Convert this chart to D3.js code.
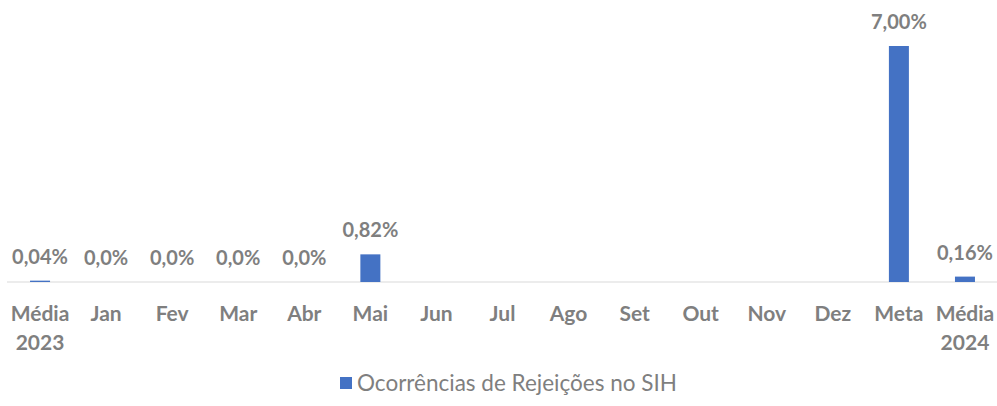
<!DOCTYPE html>
<html>
<head>
<meta charset="utf-8">
<script src="https://cdn.jsdelivr.net/npm/d3@7"></script>
<style>
  body { margin: 0; background: #fff; }
  svg { display: block; font-family: Lato, "Open Sans", sans-serif; }
</style>
</head>
<body>
<svg id="chart" width="997" height="406"></svg>
<script>
  // data
  const categories = ["Média 2023", "Jan", "Fev", "Mar", "Abr", "Mai", "Jun", "Jul",
    "Ago", "Set", "Out", "Nov", "Dez", "Meta", "Média 2024"];
  const values = [0.04, 0, 0, 0, 0, 0.82, null, null, null, null, null, null, null, 7.00, 0.16];
  const valueLabels = ["0,04%", "0,0%", "0,0%", "0,0%", "0,0%", "0,82%", "", "", "", "", "", "", "", "7,00%", "0,16%"];
  const seriesName = "Ocorrências de Rejeições no SIH";

  const geo = { left: 7, right: 998, top: 46, base: 282 };
  const svg = d3.select("#chart");

  const x = d3.scaleBand()
    .domain(categories)
    .range([geo.left, geo.right])
    .paddingInner(0.7)
    .paddingOuter(0.35);

  const y = d3.scaleLinear()
    .domain([0, 7])
    .range([geo.base, geo.top]);

  const rows = categories.map((c, i) => ({ cat: c, v: values[i], label: valueLabels[i] }));

  // baseline
  svg.append("line")
    .attr("x1", geo.left).attr("x2", 997)
    .attr("y1", geo.base).attr("y2", geo.base)
    .attr("stroke", "#d9d9d9").attr("stroke-width", 1);

  const bw = 20;
  svg.append("g").selectAll("rect")
    .data(rows.filter(d => d.v))
    .enter().append("rect")
    .attr("x", d => x(d.cat) + x.bandwidth() / 2 - bw / 2)
    .attr("y", d => y(d.v))
    .attr("width", bw)
    .attr("height", d => geo.base - y(d.v))
    .attr("fill", "#4472c4");

  svg.append("g").selectAll("text")
    .data(rows.filter(d => d.label))
    .enter().append("text")
    .attr("x", d => x(d.cat) + x.bandwidth() / 2)
    .attr("y", d => y(d.v || 0) - 17)
    .attr("text-anchor", "middle")
    .attr("font-size", 20)
    .attr("font-weight", "bold")
    .attr("fill", "#7f7f7f")
    .text(d => d.label);

  // category labels, two lines for "Média yyyy"
  const tick = svg.append("g").selectAll("text")
    .data(categories)
    .enter().append("text")
    .attr("x", d => x(d) + x.bandwidth() / 2)
    .attr("y", 321)
    .attr("text-anchor", "middle")
    .attr("font-size", 21)
    .attr("font-weight", "bold")
    .attr("fill", "#7f7f7f");

  tick.each(function (d) {
    const parts = d.split(" ");
    const t = d3.select(this);
    parts.forEach((p, i) => {
      t.append("tspan")
        .attr("x", x(d) + x.bandwidth() / 2)
        .attr("dy", i === 0 ? 0 : 29)
        .text(p);
    });
  });

  // legend
  const legend = svg.append("g").attr("transform", "translate(340,383)");
  legend.append("rect")
    .attr("x", 0).attr("y", -6)
    .attr("width", 12).attr("height", 12)
    .attr("fill", "#4472c4");
  legend.append("text")
    .attr("x", 17).attr("y", 7.5)
    .attr("font-size", 22.5)
    .attr("fill", "#7f7f7f")
    .text(seriesName);
</script>
</body>
</html>
